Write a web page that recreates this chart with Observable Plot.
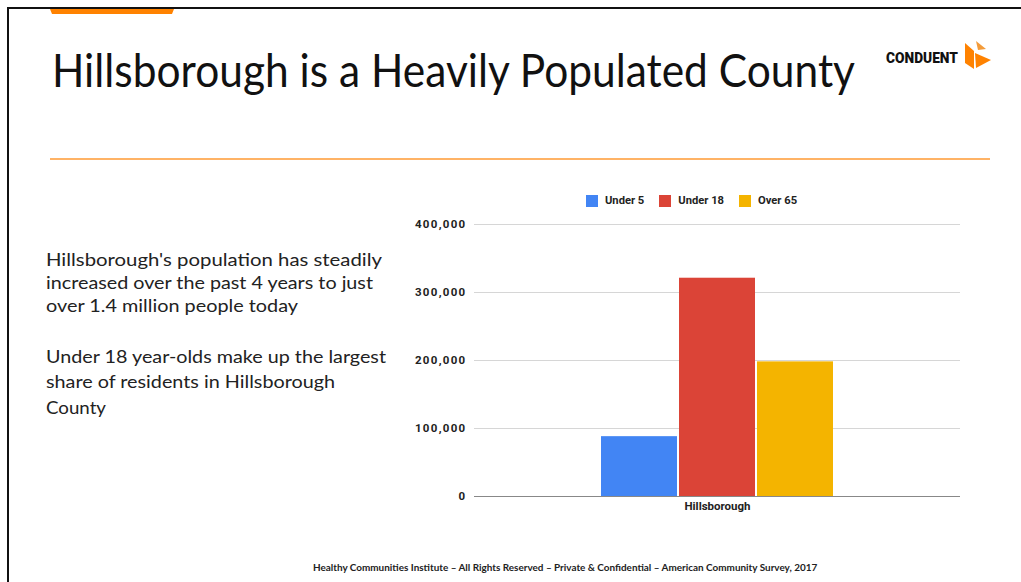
<!DOCTYPE html>
<html>
<head>
<meta charset="utf-8">
<script src="https://cdn.jsdelivr.net/npm/d3@7"></script>
<script src="https://cdn.jsdelivr.net/npm/@observablehq/plot@0.6"></script>
<style>
  html, body { margin: 0; padding: 0; background: #fff; }
  #slide { position: relative; width: 1021px; height: 582px; overflow: hidden; background: #fff; }
  .abs { position: absolute; white-space: nowrap; }
  #title { left: 52px; top: 42px; font-family: Lato, sans-serif; font-size: 46px; color: #111; }
  .line { position: absolute; left: 46px; font-family: Lato, sans-serif; font-size: 18px; color: #222; white-space: nowrap; transform-origin: 0 0; }
  #footer { left: 313px; top: 561px; font-family: Lato, sans-serif; font-weight: 700; font-size: 8.5px; color: #222; }
  #legend { top: 194px; left: 586px; font-family: Roboto, sans-serif; font-weight: 700; font-size: 11.2px; color: #222; display: flex; align-items: center; }
  #legend .item { display: flex; align-items: center; margin-right: 15px; }
  #legend .sw { width: 12px; height: 12px; margin-right: 7px; }
  #chart { left: 400px; top: 214px; }
  #logo { left: 886px; top: 50px; font-family: Roboto, sans-serif; font-weight: 900; font-size: 11px; color: #111; }
</style>
</head>
<body>
<div id="slide">
  <div class="abs" style="left:7px;top:7px;width:1014px;height:2px;background:#111;"></div>
  <div class="abs" style="left:7px;top:7px;width:2px;height:575px;background:#111;"></div>
  <svg class="abs" style="left:48px;top:9px" width="130" height="6"><polygon points="2,0 126,0 124,5 4,5" fill="#FF8200"/></svg>
  <div id="title" class="abs">Hillsborough is a Heavily Populated County</div>
  <div id="logo" class="abs">CONDUENT</div>
  <svg class="abs" style="left:962px;top:41px" width="32" height="30">
    <polygon points="3,2 12,10 12,28 3,22" fill="#FF8200"/>
    <polygon points="13,12 29,19 14,27" fill="#FF8200"/>
    <polygon points="14,0 24,8 16,9" fill="#F39B3A"/>
  </svg>
  <div class="abs" style="left:50px;top:158px;width:940px;height:2px;background:#FFB366;"></div>
  <div class="line" style="top:248px" data-w="336">Hillsborough's population has steadily</div>
  <div class="line" style="top:271px" data-w="327">increased over the past 4 years to just</div>
  <div class="line" style="top:294px" data-w="252">over 1.4 million people today</div>
  <div class="line" style="top:345px" data-w="340">Under 18 year-olds make up the largest</div>
  <div class="line" style="top:370px" data-w="289">share of residents in Hillsborough</div>
  <div class="line" style="top:396px" data-w="60">County</div>
  <div id="legend" class="abs"></div>
  <div id="chart" class="abs"></div>
  <div id="footer" class="abs">Healthy Communities Institute – All Rights Reserved – Private &amp; Confidential – American Community Survey, 2017</div>
</div>
<script>
const county = ["Hillsborough"];
const series = ["Under 5", "Under 18", "Over 65"];
const values = [88000, 321000, 198000];
const colors = ["#4285F4", "#DB4437", "#F4B400"];
const yTicks = [0, 100000, 200000, 300000, 400000];

const rows = series.map((s, i) => ({county: county[0], series: s, value: values[i]}));

const legend = document.getElementById("legend");
series.forEach((s, i) => {
  const it = document.createElement("div");
  it.className = "item";
  it.innerHTML = `<div class="sw" style="background:${colors[i]}"></div><span>${s}</span>`;
  legend.appendChild(it);
});

const chart = Plot.plot({
  width: 580,
  height: 306,
  marginLeft: 74,
  marginRight: 20,
  marginTop: 10,
  marginBottom: 24,
  style: {fontFamily: "Roboto, sans-serif", fontSize: "11.5px", fontWeight: 700, color: "#222", background: "transparent"},
  fx: {domain: county, axis: "bottom", label: null, tickSize: 0, tickPadding: 5, padding: 0},
  x: {domain: series, axis: null, paddingInner: 0.02, paddingOuter: 1.62},
  y: {domain: [0, 400000], ticks: yTicks, tickFormat: d3.format(","), label: null, tickSize: 0, tickPadding: 8},
  color: {domain: series, range: colors},
  marks: [
    Plot.ruleY(yTicks.slice(1), {stroke: "#d6d6d6", strokeWidth: 1}),
    Plot.barY(rows, {fx: "county", x: "series", y: "value", fill: "series"}),
    Plot.ruleY([0], {stroke: "#888", strokeWidth: 1.2})
  ]
});
document.getElementById("chart").appendChild(chart);
d3.select(chart).selectAll('g[aria-label="y-axis tick label"] text').style("letter-spacing", "1.3px");

function fitFont(el, w) {
  const cur = el.getBoundingClientRect().width;
  const fs = parseFloat(getComputedStyle(el).fontSize);
  el.style.fontSize = (fs * w / cur) + "px";
}
function fitScale(el, w) {
  const cur = el.getBoundingClientRect().width;
  el.style.transformOrigin = "0 0";
  el.style.transform = `scaleX(${w / cur})`;
}
fitScale(document.getElementById("title"), 803);
document.querySelectorAll(".line").forEach(el => fitScale(el, +el.dataset.w));
fitFont(document.getElementById("footer"), 505);
fitFont(document.getElementById("logo"), 72);
</script>
</body>
</html>
